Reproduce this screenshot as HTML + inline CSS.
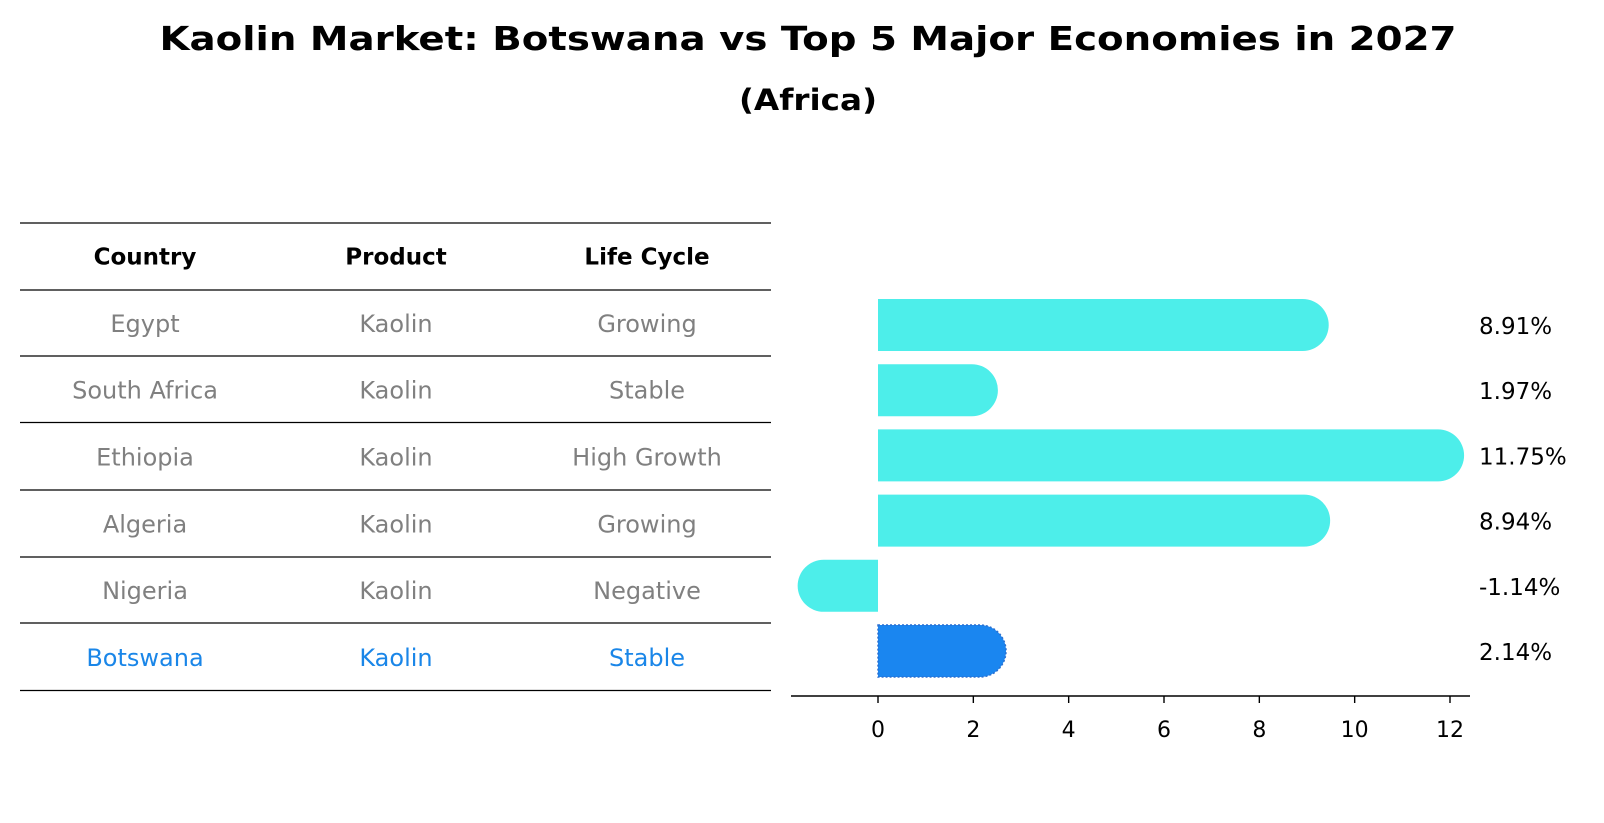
<!DOCTYPE html>
<html><head><meta charset="utf-8"><style>
body{margin:0;background:#fff;}
svg{display:block;font-family:"DejaVu Sans","Liberation Sans",sans-serif;}
</style></head><body>
<svg id="chart" width="1604" height="823" viewBox="0 0 1604 823">
<text x="808" y="50" text-anchor="middle" font-size="33" font-weight="bold" textLength="1297" lengthAdjust="spacingAndGlyphs">Kaolin Market: Botswana vs Top 5 Major Economies in 2027</text>
<text x="808" y="110" text-anchor="middle" font-size="29" font-weight="bold" textLength="138" lengthAdjust="spacingAndGlyphs">(Africa)</text>
<g id="table"></g>
<g id="bars"></g>
</svg>
<script>
const countries=["Egypt","South Africa","Ethiopia","Algeria","Nigeria","Botswana"];
const products=["Kaolin","Kaolin","Kaolin","Kaolin","Kaolin","Kaolin"];
const lifeCycles=["Growing","Stable","High Growth","Growing","Negative","Stable"];
const growthValues=[8.91,1.97,11.75,8.94,-1.14,2.14];
const valueLabels=["8.91%","1.97%","11.75%","8.94%","-1.14%","2.14%"];
const xTicks=[0,2,4,6,8,10,12];
const headers=["Country","Product","Life Cycle"];

const NS="http://www.w3.org/2000/svg";
function mk(tag,attrs,parent){const e=document.createElementNS(NS,tag);for(const k in attrs)e.setAttribute(k,attrs[k]);parent.appendChild(e);return e;}

// table
const tbl=document.getElementById('table');
const lineYs=[223,290,356,422.5,490,557,623,690.5];
const colX=[145,396,647];
lineYs.forEach((y,i)=>{const l=mk('line',{x1:20,x2:771,y1:y,y2:y,stroke:'#000','stroke-width':1.2},tbl);

});
headers.forEach((h,j)=>{const t=mk('text',{x:colX[j],y:(lineYs[0]+lineYs[1])/2+8,'text-anchor':'middle','font-size':23,'font-weight':'bold'},tbl);t.textContent=h;

});
countries.forEach((c,i)=>{const y=(lineYs[i+1]+lineYs[i+2])/2+9;const col=i===countries.length-1?'#1a86e8':'#808080';
[c,products[i],lifeCycles[i]].forEach((v,j)=>{const t=mk('text',{x:colX[j],y:y,'text-anchor':'middle','font-size':24,fill:col},tbl);t.textContent=v;

});});

// bars
const g=document.getElementById('bars');
const x0=878,unit=(1450-878)/12;
const X=v=>x0+v*unit;
const rowY=i=>325+i*65.2;
const bh=52,r=26;
growthValues.forEach((v,i)=>{
 const cy=rowY(i);const last=i===growthValues.length-1;
 const fill=last?'#1a86f0':'#4deeea';
 const grp=mk('g',{},g);
 
 
 const xe=X(v),xs=X(0),dir=v>=0?1:-1;
 const d=`M${xs},${cy-r} L${xe},${cy-r} A${r},${r} 0 0 ${dir>0?1:0} ${xe},${cy+r} L${xs},${cy+r} Z`;
 const p=mk('path',{d:d,fill:fill},grp);
 if(last){p.setAttribute('stroke','#2a6fd0');p.setAttribute('stroke-dasharray','2 2');p.setAttribute('stroke-width','1.5');}
 const t=mk('text',{x:1479,y:cy+9,'font-size':23},g);t.textContent=valueLabels[i];
 
 
});
const ax=mk('line',{x1:791,x2:1470,y1:696,y2:696,stroke:'#000','stroke-width':1.6},g);


xTicks.forEach(v=>{const tk=mk('line',{x1:X(v),x2:X(v),y1:696,y2:703,stroke:'#000','stroke-width':1.4},g);


const t=mk('text',{x:X(v),y:737,'text-anchor':'middle','font-size':22},g);t.textContent=v;

});
</script>
</body></html>
